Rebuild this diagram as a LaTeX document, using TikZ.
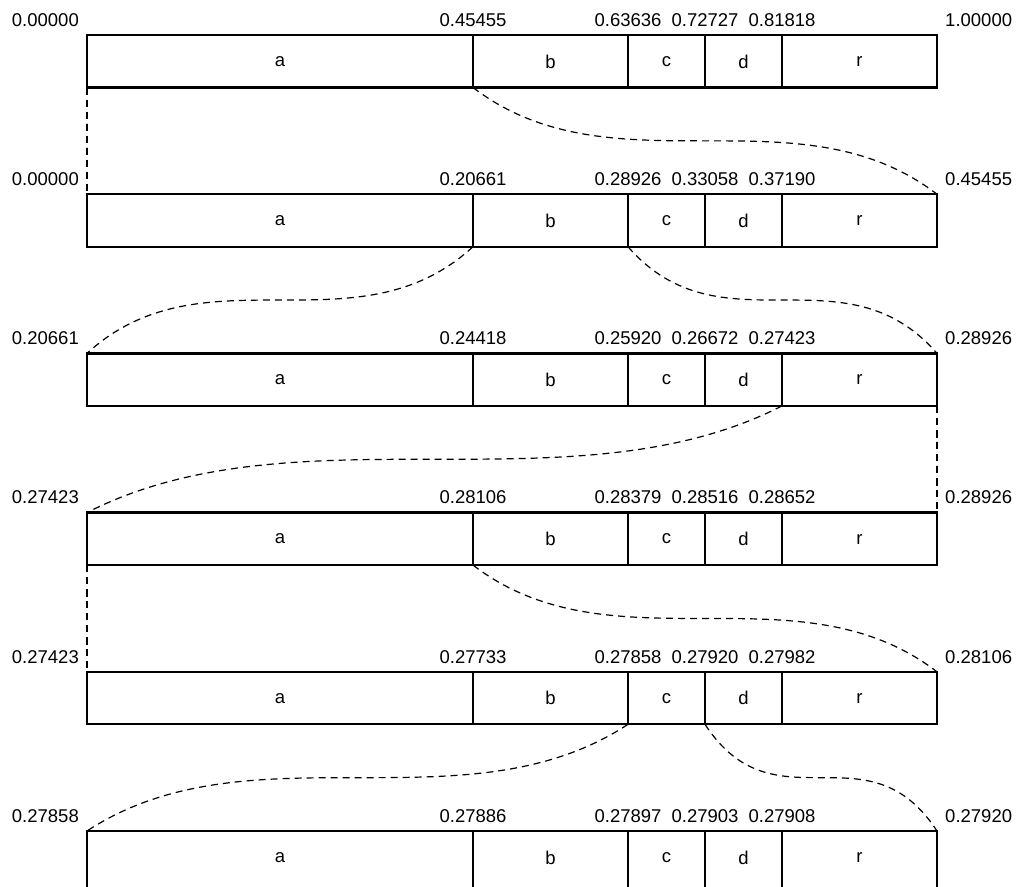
\documentclass[tikz,border=0pt]{standalone}
\usepackage{fontspec}
\setmainfont{Liberation Sans}
\usetikzlibrary{calc}
\tikzset{
  bar/.style={line width=2.3pt, line join=miter},
  div/.style={line width=1.1pt},
  link/.style={line width=1.2pt, dash pattern=on 7pt off 5pt},
  val/.style={font=\fontsize{18.5}{22}\selectfont, inner sep=0pt},
  seg/.style={font=\fontsize{18.5}{22}\selectfont, inner sep=0pt},
}
\newcommand\conn[2]{%
  \coordinate (m1) at ($(#1)!0.3!(#2)$);%
  \coordinate (m2) at ($(#2)!0.3!(#1)$);%
  \draw[link] (#1) .. controls (m1 |- #2) and (m2 |- #1) .. (#2);%
}
\begin{document}
\begin{tikzpicture}[x=1pt,y=-1pt]
\useasboundingbox (0,0) rectangle (1016,886);
\clip (0,0) rectangle (1016,886);
\foreach \i/\y/\h/\l/\va/\vb/\vc/\vd/\r in {
  1/35/52.5/0.00000/0.45455/0.63636/0.72727/0.81818/1.00000,
  2/194.2/52.5/0.00000/0.20661/0.28926/0.33058/0.37190/0.45455,
  3/353.4/52.5/0.20661/0.24418/0.25920/0.26672/0.27423/0.28926,
  4/512.6/52.5/0.27423/0.28106/0.28379/0.28516/0.28652/0.28926,
  5/671.8/52.5/0.27423/0.27733/0.27858/0.27920/0.27982/0.28106,
  6/831/64/0.27858/0.27886/0.27897/0.27903/0.27908/0.27920}{
  \foreach \k/\x in {0/87,1/473,2/628,3/705,4/782,5/937}{
    \coordinate (t\i-\k) at (\x,\y);
    \coordinate (b\i-\k) at (\x,\y+\h);
  }
  \foreach \k in {1,2,3,4}{\draw[div] (t\i-\k) -- (b\i-\k);}
  \draw[bar] (t\i-0) rectangle (b\i-5);
  \node[seg] (sa\i) at ($(t\i-0)!0.5!(t\i-1)+(0,26.5)$) {a};
  \node[seg] (sb\i) at ($(t\i-1)!0.5!(t\i-2)+(0,26.5)$) {b};
  \node[seg] (sc\i) at ($(t\i-2)!0.5!(t\i-3)+(0,26.5)$) {c};
  \node[seg] (sd\i) at ($(t\i-3)!0.5!(t\i-4)+(0,26.5)$) {d};
  \node[seg] (sr\i) at ($(t\i-4)!0.5!(t\i-5)+(0,26.5)$) {r};
  \node[val, anchor=east] (l\i) at ($(t\i-0)+(-8,-15)$) {\l};
  \node[val] (va\i) at ($(t\i-1)+(0,-15)$) {\va};
  \node[val] (vb\i) at ($(t\i-2)+(0,-15)$) {\vb};
  \node[val] (vc\i) at ($(t\i-3)+(0,-15)$) {\vc};
  \node[val] (vd\i) at ($(t\i-4)+(0,-15)$) {\vd};
  \node[val, anchor=west] (rr\i) at ($(t\i-5)+(8,-15)$) {\r};
}
\conn{b1-0}{t2-0}
\conn{b1-1}{t2-5}
\conn{b2-1}{t3-0}
\conn{b2-2}{t3-5}
\conn{b3-4}{t4-0}
\conn{b3-5}{t4-5}
\conn{b4-0}{t5-0}
\conn{b4-1}{t5-5}
\conn{b5-2}{t6-0}
\conn{b5-3}{t6-5}
\end{tikzpicture}
\end{document}
